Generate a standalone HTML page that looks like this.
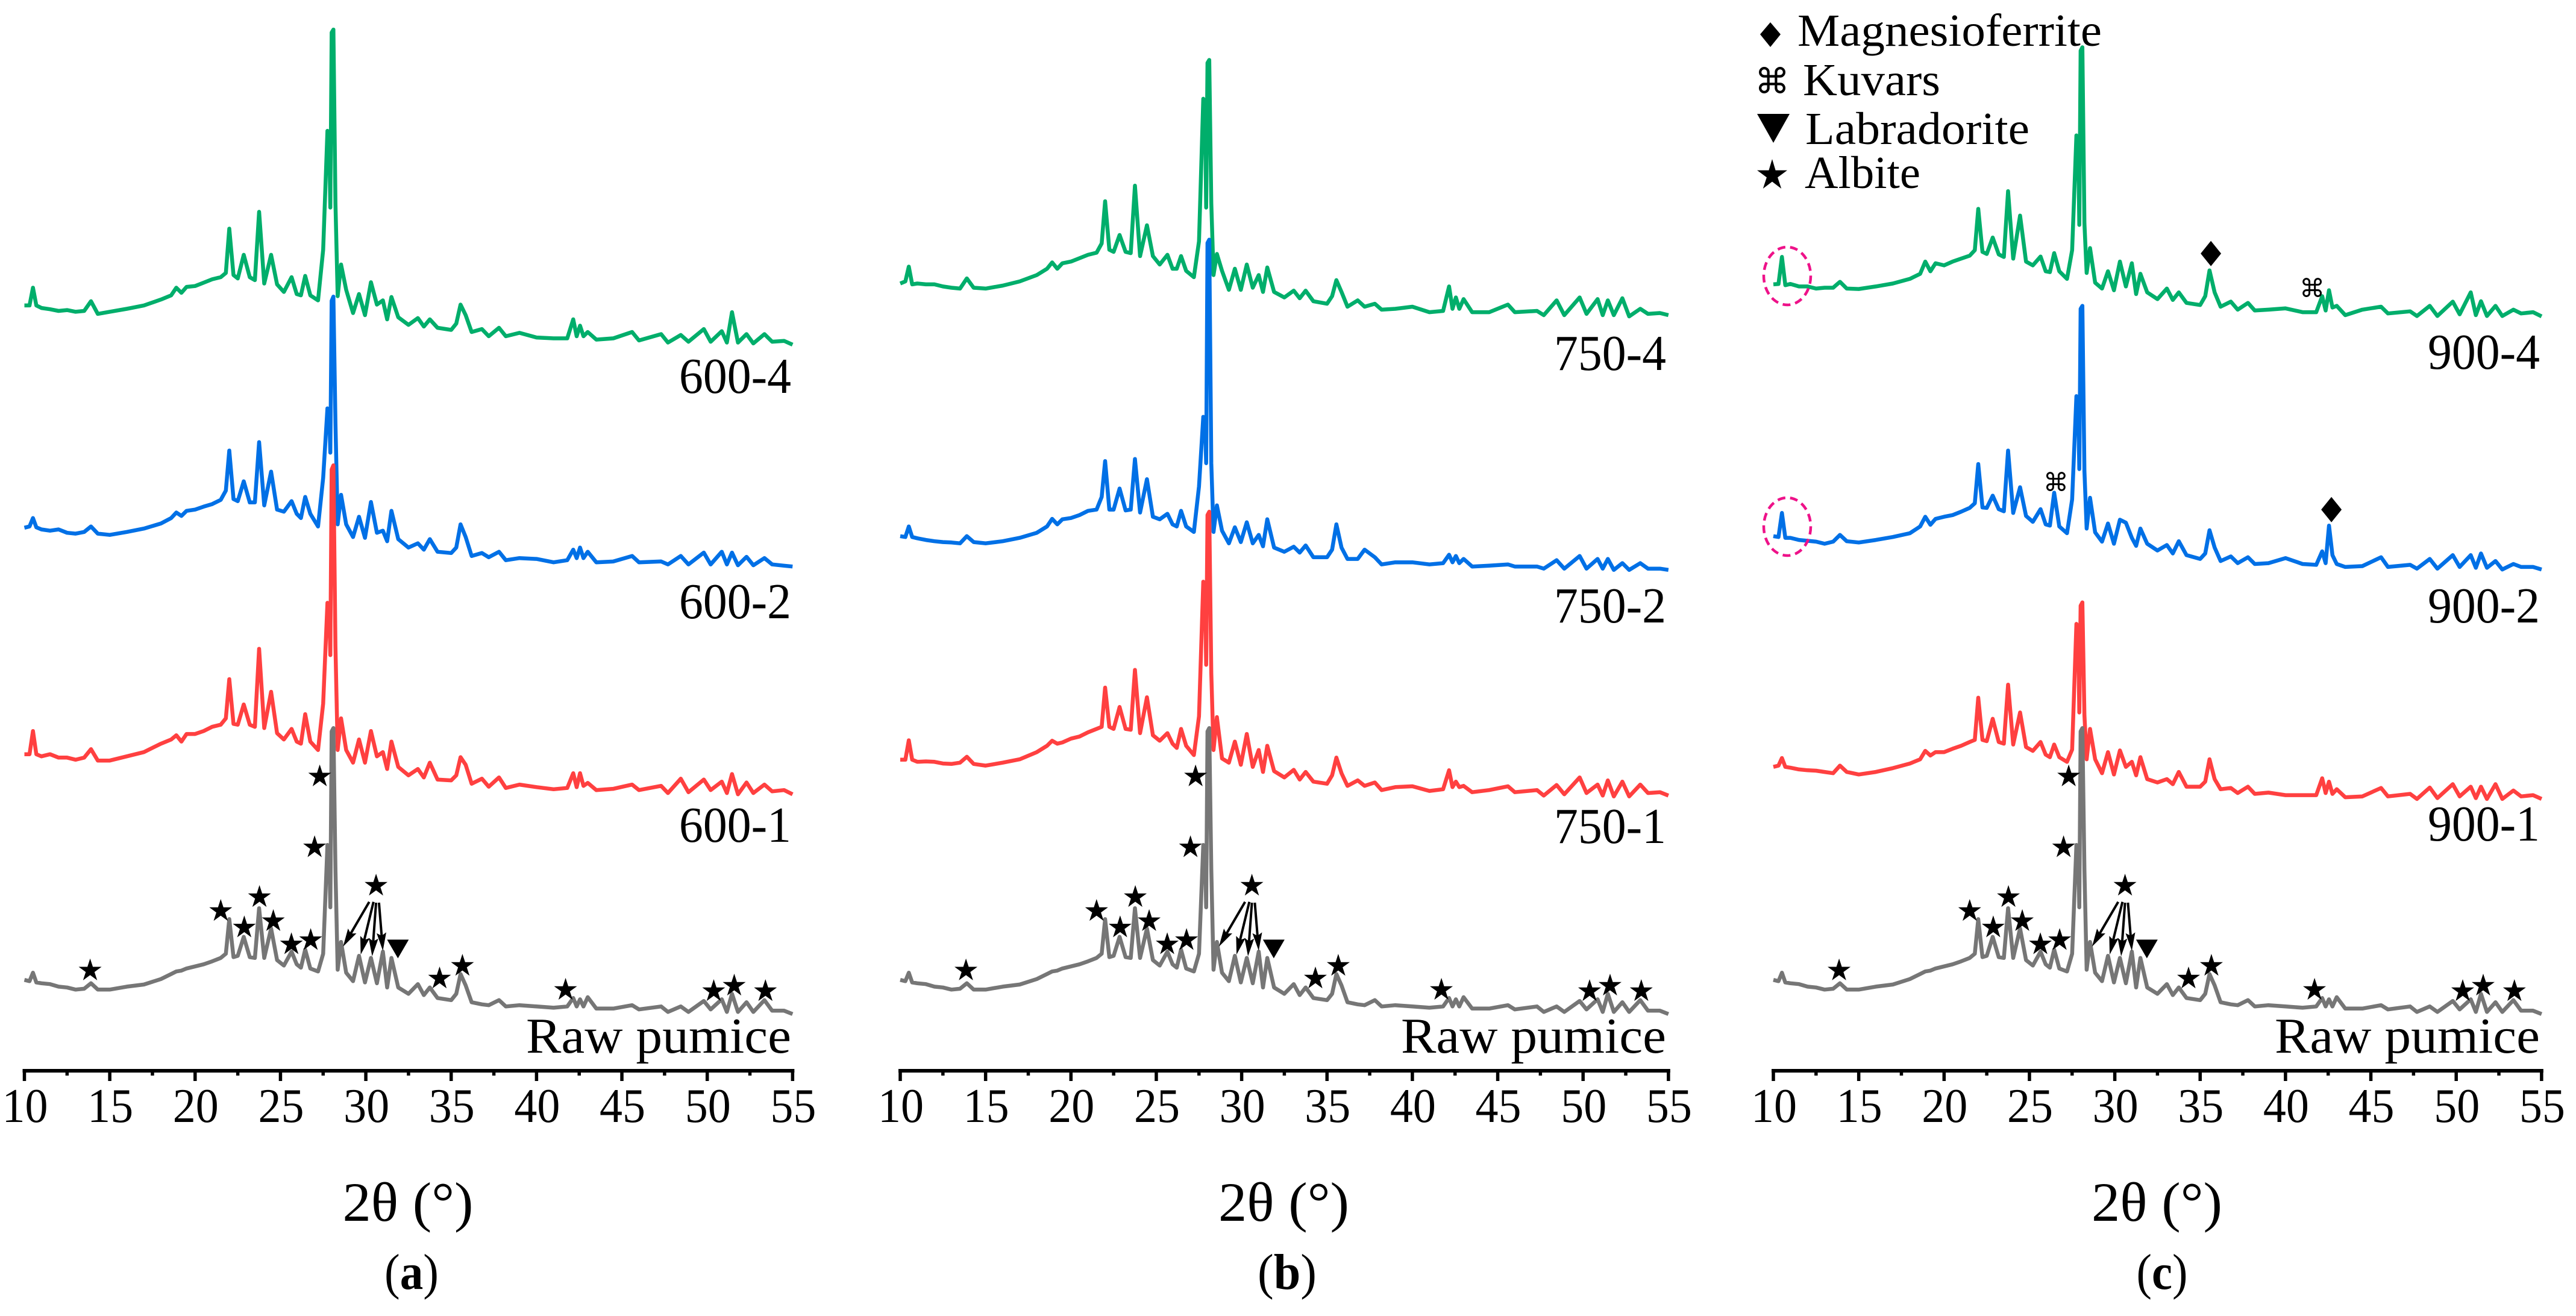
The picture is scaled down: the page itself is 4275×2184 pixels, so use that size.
<!DOCTYPE html>
<html lang="en">
<head>
<meta charset="utf-8">
<title>XRD patterns of pumice samples</title>
<style>
html,body{margin:0;padding:0;background:#fff;}
svg{display:block;}
text{font-family:"Liberation Serif","DejaVu Serif",serif;fill:#000;}
.sym{font-family:"DejaVu Sans",sans-serif;}
</style>
</head>
<body>
<svg id="chart" xmlns="http://www.w3.org/2000/svg" width="4275" height="2184" viewBox="0 0 4275 2184">
<rect x="0" y="0" width="4275" height="2184" fill="#fff"/>
<g>
<polygon points="2938,37 2955,57 2938,78 2921,57" fill="#000"/>
<text x="2983" y="76" font-size="76" textLength="505" lengthAdjust="spacingAndGlyphs">Magnesioferrite</text>
<text class="sym" x="2941" y="155" font-size="58" text-anchor="middle">⌘</text>
<text x="2992" y="158" font-size="76" textLength="228" lengthAdjust="spacingAndGlyphs">Kuvars</text>
<polygon points="2916,189 2970,189 2943,237" fill="#000"/>
<text x="2996" y="239" font-size="76" textLength="372" lengthAdjust="spacingAndGlyphs">Labradorite</text>
<polygon points="2941,264 2946.6,282.6 2966,282.6 2950.1,294.4 2956.2,313 2941,301.5 2925.8,313 2931.9,294.4 2916,282.6 2935.4,282.6" fill="#000"/>
<text x="2995" y="312" font-size="76" textLength="192" lengthAdjust="spacingAndGlyphs">Albite</text>
</g>
<ellipse cx="2966" cy="458" rx="39" ry="48" fill="none" stroke="#ee1289" stroke-width="4.5" stroke-dasharray="13 8"/>
<ellipse cx="2966" cy="874" rx="39" ry="48" fill="none" stroke="#ee1289" stroke-width="4.5" stroke-dasharray="13 8"/>
</svg>
<script>
// Shared 2-theta sampling positions (degrees)
const twoTheta=[
10,10.3,10.5,10.7,11,11.5,12,12.5,13,13.5,
13.9,14.3,15,16,17,18,18.6,18.9,19.2,19.5,
20,20.5,21,21.5,21.8,22,22.25,22.5,22.85,23.2,
23.5,23.75,24.05,24.45,24.8,25.2,25.65,25.95,26.2,26.45,
26.75,27.2,27.5,27.75,27.85,27.92,28,28.1,28.22,28.35,28.55,28.85,
29.25,29.6,29.95,30.3,30.65,31,31.25,31.5,31.9,32.5,
33.05,33.4,33.75,34.2,35,35.3,35.55,35.85,36.2,36.8,
37.2,37.8,38.2,39,40,41,41.8,42.15,42.35,42.55,
42.75,43,43.5,44.5,45.6,46,47.3,47.7,48.45,48.9,
49.8,50.2,50.85,51.15,51.45,51.8,52.3,52.7,53.35,53.8,
54.5,55];
// Intensities (a.u.)
const rawPumice=[
81,78,98,75,73,71,65,63,58,60,
73,58,58,65,70,83,95,101,103,108,
113,118,125,133,143,225,135,138,183,135,
133,251,133,203,128,115,148,118,110,153,
108,101,143,401,395,253,670,678,343,105,171,98,
78,138,75,133,73,148,63,133,63,48,
71,45,63,38,33,48,95,68,28,23,
21,33,18,21,18,15,18,38,18,35,
18,40,13,13,21,11,18,5,18,5,
31,11,35,5,48,5,28,5,33,8,
8,0];
const s600_1=[
95,95,150,95,90,95,87,87,82,87,
107,80,80,90,100,120,130,140,125,143,
143,150,160,165,180,273,167,165,213,165,
160,345,157,243,145,130,155,125,120,190,
125,105,215,454,448,330,770,780,350,105,180,105,
75,130,75,150,90,100,60,125,65,45,
60,40,75,35,33,45,88,70,25,37,
18,40,15,23,17,12,15,50,17,50,
20,27,10,13,23,10,20,3,37,5,
35,10,30,3,48,0,28,3,23,7,
10,0];
const s600_2=[
92,95,115,93,88,85,88,80,78,82,
95,78,75,82,90,102,115,128,120,132,
135,142,148,158,180,275,160,155,202,152,
152,295,145,225,135,130,155,125,115,165,
125,95,210,375,370,270,630,640,340,100,170,100,
70,118,68,153,80,85,60,132,65,45,
55,40,65,35,32,45,100,70,25,32,
22,35,15,20,18,10,15,40,20,45,
20,35,10,12,25,10,12,5,25,5,
33,5,35,5,33,3,23,3,20,5,
2,0];
const s600_4=[
93,93,135,93,87,84,80,82,78,80,
103,73,78,85,93,107,117,135,123,137,
139,147,155,160,170,275,165,157,213,160,
153,315,145,213,143,125,160,120,117,163,
117,105,225,507,500,325,740,747,335,115,190,130,
75,120,70,148,95,105,60,113,65,47,
63,43,60,40,35,50,95,70,30,37,
20,40,20,28,17,15,15,60,20,45,
20,30,12,15,30,10,25,5,23,7,
37,7,32,5,77,5,25,3,25,7,
9,0];
const s750_1=[
85,85,131,85,80,81,80,76,75,78,
92,75,71,78,86,103,118,130,123,126,
135,140,150,158,163,256,163,158,210,158,
156,298,148,233,143,130,148,123,113,158,
118,96,188,507,500,310,665,673,290,108,186,88,
78,128,73,146,68,108,56,118,58,43,
61,38,56,33,28,48,90,53,23,36,
23,31,13,20,22,11,15,60,20,33,
20,23,8,13,22,8,13,0,25,3,
43,6,26,0,36,-2,33,-2,26,6,
8,0];
const s750_2=[
80,78,103,78,75,71,68,66,65,63,
80,66,63,68,76,88,103,121,108,120,
123,130,140,143,173,258,143,143,193,141,
143,263,136,215,126,120,133,108,103,140,
103,90,198,363,358,253,775,783,253,90,153,93,
63,101,66,113,63,83,56,120,53,43,
55,41,58,30,30,48,108,53,26,26,
48,30,13,18,18,13,16,36,18,33,
16,26,8,10,13,8,8,3,23,3,
33,3,26,3,26,0,16,0,16,3,
3,0];
const s750_4=[
75,80,115,73,75,73,73,68,65,63,
87,65,63,70,80,95,110,125,110,123,
127,135,143,148,170,270,155,150,190,150,
147,307,140,213,140,120,143,110,110,140,
105,90,175,513,505,255,598,605,265,95,145,105,
60,110,60,120,65,95,55,113,55,42,
58,40,58,33,27,45,83,55,20,35,
20,27,13,15,20,7,10,68,15,42,
15,38,7,7,25,7,10,0,35,0,
42,3,38,0,35,0,40,-3,15,3,
5,0];
const s900_1=[
76,79,97,76,74,70,68,67,64,61,
79,64,58,64,73,84,94,114,103,111,
111,119,126,135,140,240,140,137,190,135,
131,271,129,205,123,114,135,105,99,129,
99,88,117,415,408,205,458,466,199,94,166,94,
61,111,58,115,76,88,56,99,47,39,
47,35,64,29,29,41,94,47,23,26,
14,29,12,15,9,9,9,49,14,41,
12,23,4,6,26,6,12,0,27,2,
35,6,29,2,29,0,35,0,20,6,
9,0];
const s900_2=[
79,77,134,75,75,70,68,66,61,66,
82,67,64,70,77,86,102,125,106,120,
125,129,137,146,157,250,147,146,175,143,
138,282,134,195,127,113,143,107,104,182,
102,86,166,411,405,238,618,625,234,97,170,88,
66,109,61,118,111,75,56,97,61,45,
58,38,67,34,25,38,93,52,20,31,
15,29,13,15,27,13,11,43,15,104,
34,13,6,8,29,6,11,2,25,2,
34,6,34,4,38,4,20,0,13,6,
6,0];
const s900_4=[
76,77,141,74,77,71,71,66,68,68,
82,66,65,71,78,89,101,130,107,126,
121,130,137,144,157,255,153,148,187,147,
141,297,137,239,130,121,142,107,105,150,
107,89,157,429,422,217,630,638,221,103,162,80,
66,107,62,130,71,126,53,101,57,41,
66,39,57,32,27,48,109,57,23,35,
16,32,14,16,19,10,10,48,14,62,
21,25,3,16,23,7,12,1,25,1,
35,5,57,3,36,1,25,1,16,7,
10,0];
// Vertical stacking offsets (a.u.)
const offset600=[654,1194,1720];
const offset750=[651,1186,1790];
const offset900=[643,1187,1787];
const offsetRaw=133;
// Axis ticks
const majorTicks=[10,15,20,25,30,35,40,45,50,55];
const minorTicks=[12.5,17.5,22.5,27.5,32.5,37.5,42.5,47.5,52.5];
// Annotation positions in data coordinates
const albiteTheta=[13.85,21.5,22.88,23.77,24.58,25.64,26.77,27.0,27.3,30.6,35.66,34.32,41.7,50.38,51.58,53.41];
const albiteLevel=[239,380,341,413,356,301,311,531,699,440,250,220,193,190,203,190];
const labradoriteTheta=[31.88];
const labradoriteLevel=[288];
const arrowStartTheta=[30.2,30.45,30.6,30.77];
const arrowEndTheta=[28.67,29.7,30.37,31.0];
const arrowStartLevel=[399,399,397,397];
const arrowEndLevel=[293,274,270,283];
const magnesioTheta=[35.63,42.69];
const magnesioLevel=[1936,1329];
const kuvarsTheta=[41.56,26.55];
const kuvarsLevel=[1856,1396];
// Labels
const sample600=['600-1','600-2','600-4'];
const sample750=['750-1','750-2','750-4'];
const sample900=['900-1','900-2','900-4'];

const NS='http://www.w3.org/2000/svg';
const svg=document.getElementById('chart');
const AXIS_Y=1776,AXIS_LINE_Y=1777,PX_PER_DEG=28.33,PX_PER_AU=0.7;
function yScale(v){return AXIS_Y-v*PX_PER_AU;}
function make(tag,attrs,parent){
  const n=document.createElementNS(NS,tag);
  for(const k in attrs){n.setAttribute(k,attrs[k]);}
  parent.appendChild(n);
  return n;
}
function starPoints(cx,cy,R){
  const pts=[];
  for(let i=0;i<10;i++){
    const r=i%2===0?R:R*0.382;
    const a=-Math.PI/2+i*Math.PI/5;
    pts.push((cx+r*Math.cos(a)).toFixed(1)+','+(cy+r*Math.sin(a)).toFixed(1));
  }
  return pts.join(' ');
}
const panels=[
 {id:'a',origin:40.5,series:[s600_4,s600_2,s600_1],offsets:[offset600[2],offset600[1],offset600[0]],names:[sample600[2],sample600[1],sample600[0]],labelY:[652,1026,1397],right:1315,capX:683,capW:90,capBold:'a'},
 {id:'b',origin:1494,series:[s750_4,s750_2,s750_1],offsets:[offset750[2],offset750[1],offset750[0]],names:[sample750[2],sample750[1],sample750[0]],labelY:[614,1033,1399],right:2767,capX:2136,capW:98,capBold:'b'},
 {id:'c',origin:2943,series:[s900_4,s900_2,s900_1],offsets:[offset900[2],offset900[1],offset900[0]],names:[sample900[2],sample900[1],sample900[0]],labelY:[612,1033,1395],right:4217,capX:3588,capW:85,capBold:'c'}
];
const seriesColors=['#00ae6b','#0070e6','#ff4040'];
function drawSeries(g,values,offset,origin,color,name){
  const d=twoTheta.map((t,i)=>(i?'L':'M')+(origin+(t-10)*PX_PER_DEG).toFixed(1)+' '+yScale(values[i]+offset).toFixed(1)).join('');
  const p=make('path',{d:d,fill:'none',stroke:color,'stroke-width':6.5,'stroke-linejoin':'round','stroke-linecap':'butt'},g);
  
  
}
panels.forEach(function(P){
  const xs=function(t){return P.origin+(t-10)*PX_PER_DEG;};
  const g=make('g',{},svg);
  
  
  P.series.forEach(function(vals,i){
    drawSeries(g,vals,P.offsets[i],P.origin,seriesColors[i],'series-'+P.names[i]);
  });
  drawSeries(g,rawPumice,offsetRaw,P.origin,'#767676','series-raw-pumice');
  P.names.forEach(function(nm,i){
    const t=make('text',{x:P.right-188,y:P.labelY[i],'font-size':84,textLength:186,lengthAdjust:'spacingAndGlyphs'},g);
    t.textContent=nm;
    
    
  });
  const rp=make('text',{x:P.right-442,y:1747,'font-size':84,textLength:440,lengthAdjust:'spacingAndGlyphs'},g);
  rp.textContent='Raw pumice';
  
  
  // axis
  const axis=make('line',{x1:P.origin-3,x2:P.origin+45*PX_PER_DEG+3,y1:AXIS_LINE_Y,y2:AXIS_LINE_Y,stroke:'#000','stroke-width':6},g);
  
  
  majorTicks.forEach(function(t){
    const tk=make('line',{x1:xs(t),x2:xs(t),y1:AXIS_LINE_Y,y2:1794,stroke:'#000','stroke-width':5.5},g);
    
    
    const lb=make('text',{x:xs(t)-37,y:1862,'font-size':80,textLength:76,lengthAdjust:'spacingAndGlyphs'},g);
    lb.textContent=String(t);
    
    
  });
  minorTicks.forEach(function(t){
    const tk=make('line',{x1:xs(t),x2:xs(t),y1:AXIS_LINE_Y,y2:1785,stroke:'#000','stroke-width':5.5},g);
    
    
  });
  const title=make('text',{x:P.origin+636-108,y:2026,'font-size':92,textLength:217,lengthAdjust:'spacingAndGlyphs'},g);
  title.textContent='2θ (°)';
  
  
  const cap=make('text',{x:P.capX-P.capW/2,y:2139,'font-size':84,textLength:P.capW,lengthAdjust:'spacingAndGlyphs'},g);
  
  
  cap.appendChild(document.createTextNode('('));
  const bold=make('tspan',{'font-weight':'bold'},cap);
  bold.textContent=P.capBold;
  cap.appendChild(document.createTextNode(')'));
  // albite stars
  albiteTheta.forEach(function(t,i){
    const s=make('polygon',{points:starPoints(xs(t),yScale(albiteLevel[i])+2,20),fill:'#000'},g);
    
    
  });
  // labradorite triangle
  labradoriteTheta.forEach(function(t,i){
    const cx=xs(t),cy=yScale(labradoriteLevel[i]);
    const tr=make('polygon',{points:(cx-18)+','+(cy-15)+' '+(cx+18)+','+(cy-15)+' '+cx+','+(cy+16),fill:'#000'},g);
    
    
  });
  // arrows
  arrowStartTheta.forEach(function(t,i){
    const x1=xs(t),y1=yScale(arrowStartLevel[i]),x2=xs(arrowEndTheta[i]),y2=yScale(arrowEndLevel[i]);
    const len=Math.hypot(x2-x1,y2-y1),ux=(x2-x1)/len,uy=(y2-y1)/len,nx=-uy,ny=ux;
    const bx=x2-ux*30,by=y2-uy*30,mx=x2-ux*25,my=y2-uy*25;
    const ar=make('g',{},g);
    
    
    make('line',{x1:x1,y1:y1,x2:mx,y2:my,stroke:'#000','stroke-width':4},ar);
    make('polygon',{points:[x2,y2,bx+nx*8,by+ny*8,mx,my,bx-nx*8,by-ny*8].map(function(v){return v.toFixed(1);}).join(' '),fill:'#000'},ar);
  });
  if(P.id==='c'){
    magnesioTheta.forEach(function(t,i){
      const cx=xs(t),cy=yScale(magnesioLevel[i]);
      const di=make('polygon',{points:cx+','+(cy-21)+' '+(cx+17)+','+cy+' '+cx+','+(cy+21)+' '+(cx-17)+','+cy,fill:'#000'},g);
      
      
    });
    kuvarsTheta.forEach(function(t,i){
      const ku=make('text',{x:xs(t),y:yScale(kuvarsLevel[i])+16,'font-size':42,'text-anchor':'middle','class':'sym'},g);
      ku.textContent='⌘';
      
      
    });
  }
});
// keep highlight ellipses on top of the traces
Array.prototype.forEach.call(svg.querySelectorAll('ellipse'),function(e){svg.appendChild(e);});
</script>
</body>
</html>
